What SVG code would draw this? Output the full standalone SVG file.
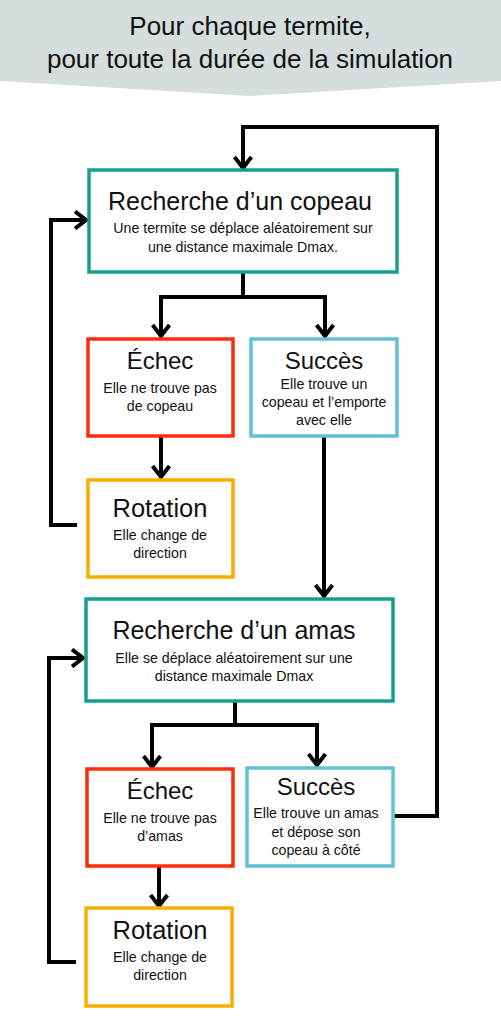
<svg xmlns="http://www.w3.org/2000/svg" width="501" height="1024" viewBox="0 0 501 1024">
<defs>
<style>
.t{font-family:"Liberation Sans",Arial,sans-serif;fill:#111;text-anchor:middle}
.h{font-size:26px}
.big{font-size:25px}
.mid{font-size:24px}
.rot{font-size:25.5px}
.s{font-size:14.2px}
.box{fill:#fff;stroke-width:3.5}
.teal{stroke:#15a08d}
.red{stroke:#fb2d0a}
.blue{stroke:#62bfd6}
.orange{stroke:#f7ae00}
.c{fill:none;stroke:#000;stroke-width:4;stroke-linejoin:miter}
</style>
<marker id="arr" viewBox="0 0 16 20" refX="13" refY="10" markerWidth="16" markerHeight="20" orient="auto" markerUnits="userSpaceOnUse">
<path d="M2,1.5 L13,10 L2,18.5" fill="none" stroke="#000" stroke-width="4"/>
</marker>
</defs>
<rect width="501" height="1024" fill="#fff"/>
<g id="header">
<polygon points="0,0 501,0 501,81 250,96 0,81" fill="#d5dedc"/>
<text class="t h" x="250" y="35">Pour chaque termite,</text>
<text class="t h" x="250" y="68">pour toute la durée de la simulation</text>
</g>
<g id="connectors">
<polyline class="c" points="393,816 437,816 437,127 243,127 243,168" marker-end="url(#arr)"/>
<polyline class="c" points="77,525 51,525 51,220 86,220" marker-end="url(#arr)"/>
<polyline class="c" points="243,273 243,297"/>
<polyline class="c" points="161,297 325,297"/>
<polyline class="c" points="161,295 161,336" marker-end="url(#arr)"/>
<polyline class="c" points="325,295 325,336" marker-end="url(#arr)"/>
<polyline class="c" points="161,437 161,477" marker-end="url(#arr)"/>
<polyline class="c" points="324,437 324,596" marker-end="url(#arr)"/>
<polyline class="c" points="76,962 49,962 49,658 83,658" marker-end="url(#arr)"/>
<polyline class="c" points="235,702 235,725"/>
<polyline class="c" points="152,725 317,725"/>
<polyline class="c" points="152,723 152,767" marker-end="url(#arr)"/>
<polyline class="c" points="317,723 317,765" marker-end="url(#arr)"/>
<polyline class="c" points="159,867 159,906" marker-end="url(#arr)"/>
</g>
<g id="recherche-copeau">
<rect class="box teal" x="89" y="170" width="308" height="102"/>
<text class="t big" x="240" y="210">Recherche d’un copeau</text>
<text class="t s" x="243" y="233">Une termite se déplace aléatoirement sur</text>
<text class="t s" x="243" y="252">une distance maximale Dmax.</text>
</g>
<g id="echec-copeau">
<rect class="box red" x="88" y="339" width="145" height="97"/>
<text class="t mid" x="160" y="369">Échec</text>
<text class="t s" x="160" y="393">Elle ne trouve pas</text>
<text class="t s" x="160" y="411">de copeau</text>
</g>
<g id="succes-copeau">
<rect class="box blue" x="251" y="339" width="146" height="97"/>
<text class="t mid" x="324" y="369">Succès</text>
<text class="t s" x="324" y="389">Elle trouve un</text>
<text class="t s" x="324" y="407">copeau et l’emporte</text>
<text class="t s" x="324" y="425">avec elle</text>
</g>
<g id="rotation-1">
<rect class="box orange" x="88" y="480" width="145" height="97"/>
<text class="t rot" x="160" y="517">Rotation</text>
<text class="t s" x="160" y="540">Elle change de</text>
<text class="t s" x="160" y="558">direction</text>
</g>
<g id="recherche-amas">
<rect class="box teal" x="86" y="599" width="307" height="102"/>
<text class="t big" x="234" y="639">Recherche d’un amas</text>
<text class="t s" x="234" y="663">Elle se déplace aléatoirement sur une</text>
<text class="t s" x="234" y="681">distance maximale Dmax</text>
</g>
<g id="echec-amas">
<rect class="box red" x="87" y="769" width="146" height="97"/>
<text class="t mid" x="160" y="799">Échec</text>
<text class="t s" x="160" y="823">Elle ne trouve pas</text>
<text class="t s" x="160" y="841">d’amas</text>
</g>
<g id="succes-amas">
<rect class="box blue" x="247" y="768" width="146" height="98"/>
<text class="t mid" x="316" y="795">Succès</text>
<text class="t s" x="316" y="818">Elle trouve un amas</text>
<text class="t s" x="316" y="837">et dépose son</text>
<text class="t s" x="316" y="855">copeau à côté</text>
</g>
<g id="rotation-2">
<rect class="box orange" x="86" y="908" width="146" height="98"/>
<text class="t rot" x="160" y="939">Rotation</text>
<text class="t s" x="160" y="962">Elle change de</text>
<text class="t s" x="160" y="980">direction</text>
</g>
</svg>
